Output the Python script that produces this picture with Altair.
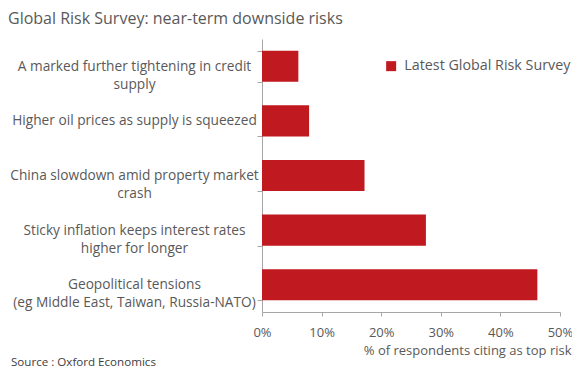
import altair as alt
import pandas as pd

categories = [
    "A marked further tightening in credit|supply",
    "Higher oil prices as supply is squeezed",
    "China slowdown amid property market |crash",
    "Sticky inflation keeps interest rates|higher for longer",
    "Geopolitical tensions|(eg Middle East, Taiwan, Russia-NATO)",
]
values = [6.1, 7.9, 17.2, 27.5, 46.2]
series_name = "Latest Global Risk Survey"
x_ticks = [0, 10, 20, 30, 40, 50]

df = pd.DataFrame({"risk": categories, "pct": values, "series": series_name})

FONT = "Open Sans"
GRAY = "#595959"
RED = "#C0191F"

W, H = 298, 273
PAD = {"left": 254, "top": 31, "right": 12, "bottom": 58}

bars = alt.Chart(df).mark_bar(color=RED).encode(
    y=alt.Y(
        "risk:N",
        sort=categories,
        scale=alt.Scale(paddingInner=0.43, paddingOuter=0.215),
        axis=alt.Axis(
            title=None,
            labelExpr="split(datum.label, '|')",
            labelAlign="center",
            labelBaseline="middle",
            labelPadding=123,
            labelLineHeight=18,
            labelFont=FONT,
            labelFontSize=13.7,
            labelColor=GRAY,
            labelLimit=400,
            tickBand="extent",
            tickSize=5,
            tickColor="#A6A6A6",
            domainColor="#A6A6A6",
            grid=False,
        ),
    ),
    x=alt.X(
        "pct:Q",
        scale=alt.Scale(domain=[0, 50], nice=False),
        axis=alt.Axis(
            values=x_ticks,
            labelExpr="datum.value + '%'",
            labelFlush=False,
            labelFont=FONT,
            labelFontSize=13,
            labelColor=GRAY,
            labelPadding=10,
            tickSize=4,
            tickColor="#A6A6A6",
            domainColor="#A6A6A6",
            grid=False,
            title="% of respondents citing as top risk",
            titleFont=FONT,
            titleFontSize=13,
            titleFontWeight="normal",
            titleColor=GRAY,
            titleAnchor="end",
            titleAlign="right",
            titleX=309,
            titleY=32,
            titleBaseline="top",
        ),
    ),
    color=alt.Color(
        "series:N",
        scale=alt.Scale(range=[RED]),
        legend=alt.Legend(
            title=None,
            orient="none",
            legendX=122,
            legendY=20,
            symbolType="square",
            symbolSize=100,
            symbolStrokeWidth=0,
            symbolOpacity=1,
            labelFont=FONT,
            labelFontSize=14.3,
            labelColor=GRAY,
            labelLimit=300,
            labelOffset=6,
        ),
    ),
)

source = alt.Chart(pd.DataFrame({"t": ["Source : Oxford Economics"]})).mark_text(
    align="left", baseline="middle", font=FONT, fontSize=11.6, color="#404040"
).encode(x=alt.value(-251), y=alt.value(324), text="t:N")

chart = alt.layer(bars, source).properties(
    width=W,
    height=H,
    padding=PAD,
    autosize=alt.AutoSizeParams(type="none"),
    title=alt.TitleParams(
        "Global Risk Survey: near-term downside risks",
        anchor="start",
        frame="group",
        dx=-254,
        offset=5,
        font=FONT,
        fontSize=16,
        fontWeight="normal",
        color=GRAY,
    ),
).configure_view(stroke=None)

chart.save("out.html", embed_options={"renderer": "svg", "actions": False})
